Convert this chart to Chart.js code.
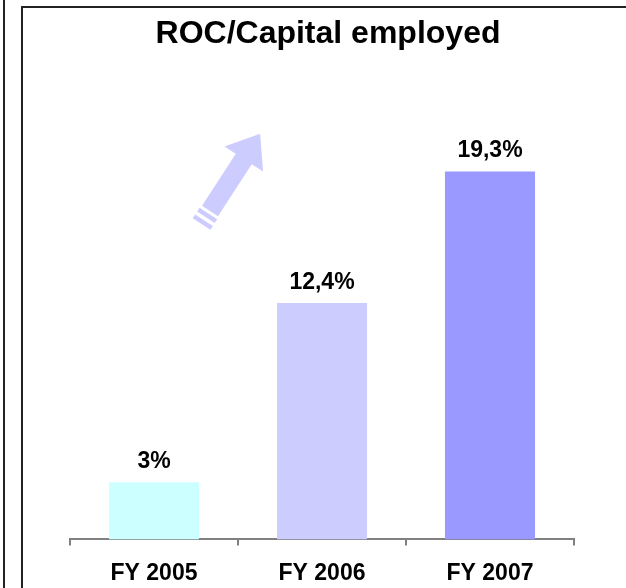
<!DOCTYPE html>
<html>
<head>
<meta charset="utf-8">
<script src="https://cdn.jsdelivr.net/npm/chart.js@4/dist/chart.umd.min.js"></script>
<style>
    html, body { margin: 0; padding: 0; background: #fff; }
    #wrap { width: 626px; height: 588px; position: relative; }
</style>
</head>
<body>
<div id="wrap"><canvas id="rocChart"></canvas></div>
<script>
const years = ['FY 2005', 'FY 2006', 'FY 2007'];
const rocValues = [3, 12.4, 19.3];
const barColors = ['#CCFFFF', '#CCCCFF', '#9999FF'];
const chartTitle = 'ROC/Capital employed';

const fontFamily = '"Liberation Sans", Arial, Helvetica, sans-serif';

//frame, title, arrow and value labels
const decorPlugin = {
    id: 'decor',
    beforeDraw(chart) {
        const ctx = chart.ctx;
        ctx.save();
        ctx.strokeStyle = '#222';
        ctx.lineWidth = 2;
        ctx.beginPath();
        ctx.moveTo(4, 0);
        ctx.lineTo(4, 588);
        ctx.moveTo(22, 588);
        ctx.lineTo(22, 7);
        ctx.lineTo(626, 7);
        ctx.stroke();

        ctx.fillStyle = '#000';
        ctx.font = 'bold 32px ' + fontFamily;
        ctx.textAlign = 'center';
        ctx.textBaseline = 'alphabetic';
        ctx.fillText(chartTitle, 328, 43);

        // rising arrow
        const ox = 210, oy = 211;
        const ux = 0.5447, uy = -0.8388;
        const vx = 0.8388, vy = 0.5447;
        const pt = (s, w) => [ox + s * ux + w * vx, oy + s * uy + w * vy];
        const poly = (pts) => {
            ctx.beginPath();
            pts.forEach((p, i) => i ? ctx.lineTo(p[0], p[1]) : ctx.moveTo(p[0], p[1]));
            ctx.closePath();
            ctx.fill();
        };
        ctx.fillStyle = '#CCCCFF';
        poly([pt(0, -9.5), pt(62, -9.5), pt(62, -23), pt(92, 0), pt(62, 23), pt(62, 9.5), pt(0, 9.5)]);
        poly([pt(-3, -10.5), pt(-3, 10.5), pt(-7.5, 10.5), pt(-7.5, -10.5)]);
        poly([pt(-11, -10.5), pt(-11, 10.5), pt(-15.5, 10.5), pt(-15.5, -10.5)]);
        ctx.restore();
    },
    afterDatasetsDraw(chart) {
        const ctx = chart.ctx;
        const meta = chart.getDatasetMeta(0);
        ctx.save();
        ctx.fillStyle = '#000';
        ctx.font = 'bold 23px ' + fontFamily;
        ctx.textAlign = 'center';
        ctx.textBaseline = 'alphabetic';
        meta.data.forEach((bar, i) => {
            const txt = String(rocValues[i]).replace('.', ',') + '%';
            ctx.fillText(txt, bar.x, bar.y - 14.5);
        });
        ctx.restore();
    }
};

new Chart('rocChart', {
    type: 'bar',
    data: {
        labels: years,
        datasets: [{
            data: rocValues,
            backgroundColor: barColors,
            borderWidth: 0,
            categoryPercentage: 1,
            barPercentage: 0.536
        }]
    },
    options: {
        responsive: true,
        maintainAspectRatio: false,
        animation: false,
        layout: {
            padding: { left: 70, right: 52, top: 63, bottom: -13 }
        },
        plugins: {
            legend: { display: false },
            title: { display: false },
            tooltip: { enabled: false }
        },
        scales: {
            x: {
                border: { display: true, color: '#808080', width: 2 },
                grid: {
                    offset: true,
                    drawOnChartArea: false,
                    drawTicks: true,
                    tickLength: 6,
                    color: '#808080',
                    lineWidth: 2
                },
                ticks: {
                    color: '#000',
                    padding: 14,
                    font: { family: fontFamily, size: 23, weight: 'bold' }
                }
            },
            y: {
                display: false,
                min: 0,
                max: 25
            }
        }
    },
    plugins: [decorPlugin]
});
</script>
</body>
</html>
